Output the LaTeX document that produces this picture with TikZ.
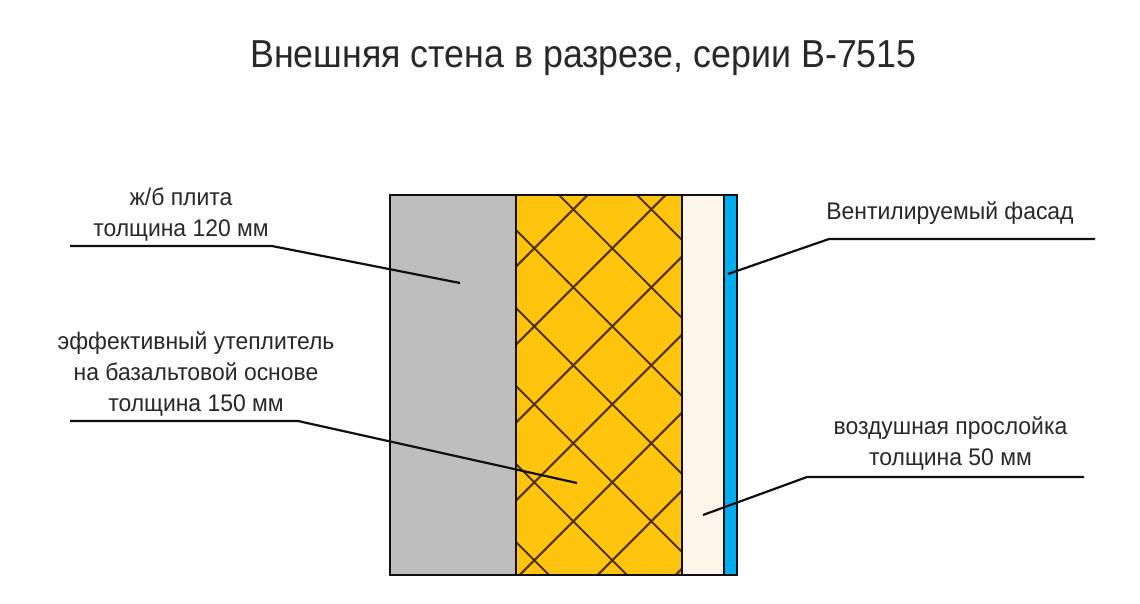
\documentclass[tikz,border=0pt]{standalone}
\usepackage{fontspec}
\setmainfont{Liberation Sans}
\newfontfamily\titlefont[FakeStretch=0.917]{Liberation Sans}
\newfontfamily\labelfont[FakeStretch=0.955]{Liberation Sans}
\definecolor{conc}{RGB}{190,190,190}
\definecolor{ins}{RGB}{254,196,14}
\definecolor{air}{RGB}{253,245,234}
\definecolor{fac}{RGB}{0,174,239}
\definecolor{ink}{RGB}{20,15,15}
\definecolor{grid}{RGB}{85,50,5}
\definecolor{txt}{RGB}{40,40,40}
\tikzset{
  layer/.style={draw=ink,line width=2pt},
  gridline/.style={draw=grid,line width=2pt},
  leader/.style={draw=ink,line width=2.2pt},
  lbl/.style={font=\labelfont\fontsize{24}{31}\selectfont,text=txt,align=center,inner sep=0pt},
  ttl/.style={font=\titlefont\fontsize{39}{44}\selectfont,text=txt,inner sep=0pt}
}
\begin{document}
\begin{tikzpicture}[x=1pt,y=-1pt]
\useasboundingbox (0,0) rectangle (1140,603);
\fill[white] (0,0) rectangle (1140,603);
\node[ttl] (title) at (583.5,58) {Внешняя стена в разрезе, серии В-7515};
% layers
\path[fill=conc] (390,195) rectangle (515.5,575);
\path[fill=ins] (515.5,195) rectangle (682,575);
\path[fill=air] (682,195) rectangle (724,575);
\path[fill=fac] (724,195) rectangle (737,575);
% lattice
\begin{scope}
\clip (515.5,195) rectangle (682,575);
\foreach \k in {-7,...,5}{
  \draw[gridline] ({500},{500-364+78*\k}) -- ({700},{700-364+78*\k});
  \draw[gridline] ({500},{782.6-500+78*(\k+4)}) -- ({700},{782.6-700+78*(\k+4)});
}
\end{scope}
\draw[layer] (390,195) rectangle (737,575);
\draw[layer] (515.5,195) -- (515.5,575);
\draw[layer] (682,195) -- (682,575);
\draw[layer] (724,195) -- (724,575);
% labels
\node[lbl] (l1) at (181,215) {ж/б плита\\толщина 120 мм};
\node[lbl] (l2) at (196,373.5) {эффективный утеплитель\\на базальтовой основе\\толщина 150 мм};
\node[lbl] (r1) at (950,213) {Вентилируемый фасад};
\node[lbl] (r2) at (950.5,443.5) {воздушная прослойка\\толщина 50 мм};
% leaders
\coordinate (a0) at (70,246); \coordinate (a1) at (272,246); \coordinate (a2) at (460,283);
\coordinate (b0) at (70,421); \coordinate (b1) at (298,421); \coordinate (b2) at (577,483);
\coordinate (c0) at (1095,239); \coordinate (c1) at (829,239); \coordinate (c2) at (728,274);
\coordinate (d0) at (1084,477); \coordinate (d1) at (807,477); \coordinate (d2) at (703,515);
\draw[leader] (a0) -- (a1) -- (a2);
\draw[leader] (b0) -- (b1) -- (b2);
\draw[leader] (c0) -- (c1) -- (c2);
\draw[leader] (d0) -- (d1) -- (d2);
\end{tikzpicture}
\end{document}
